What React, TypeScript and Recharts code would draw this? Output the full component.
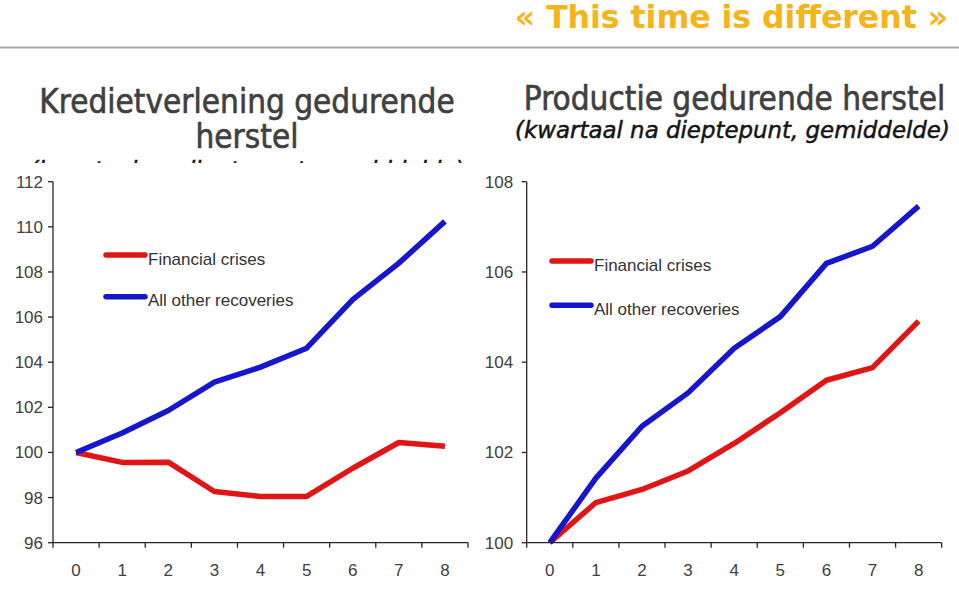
import React from "react";
import { LineChart, Line, XAxis, YAxis, Legend } from "recharts";

const quarters = [0, 1, 2, 3, 4, 5, 6, 7, 8];
const quarterBounds = [-0.5, 0.5, 1.5, 2.5, 3.5, 4.5, 5.5, 6.5, 7.5, 8.5];

const creditCrisis = [100, 99.56, 99.57, 98.27, 98.05, 98.05, 99.3, 100.44, 100.27];
const creditOther = [100, 100.86, 101.86, 103.12, 103.78, 104.62, 106.77, 108.39, 110.24];
const creditTicks = [96, 98, 100, 102, 104, 106, 108, 110, 112];

const outputCrisis = [100, 100.89, 101.18, 101.59, 102.2, 102.88, 103.6, 103.88, 104.91];
const outputOther = [100, 101.43, 102.58, 103.32, 104.31, 105.01, 106.19, 106.57, 107.46];
const outputTicks = [100, 102, 104, 106, 108];

const seriesNames = ["Financial crises", "All other recoveries"];
const seriesColors = ["#e01616", "#1616cc"];

const mainTitle = "« This time is different »";
const leftTitle = ["Kredietverlening gedurende", "herstel"];
const rightTitle = "Productie gedurende herstel";
const subTitle = "(kwartaal na dieptepunt, gemiddelde)";

const creditData = quarters.map((q, i) => ({ q, crisis: creditCrisis[i], other: creditOther[i] }));
const outputData = quarters.map((q, i) => ({ q, crisis: outputCrisis[i], other: outputOther[i] }));

const AXIS = "#262626";
const TICKFILL = "#404040";
const AX_FONT = "'Liberation Sans', Arial, sans-serif";
const COND_FONT = "'DejaVu Sans Condensed', 'DejaVu Sans', sans-serif";
const WIDE_FONT = "'DejaVu Sans', sans-serif";

function makeLegend(gap: number) {
  return (props: any) => {
    const payload = props.payload || [];
    return (
      <svg width={230} height={80} style={{ display: "block" }}>
        {payload.map((p: any, i: number) => {
          const y = 12 + i * gap;
          return (
            <g key={i}>
              <line x1={4} x2={43} y1={y} y2={y} stroke={p.color} strokeWidth={5.5} strokeLinecap="round" />
              <text
                x={46}
                y={y + 4}
                dominantBaseline="central"
                fontFamily={AX_FONT}
                fontSize={17}
                fill="#333"
              >
                {p.value}
              </text>
            </g>
          );
        })}
      </svg>
    );
  };
}

function Chart(props: {
  data: any[];
  yTicks: number[];
  width: number;
  height: number;
  margin: any;
  yTickMargin: number;
  legendLeft: number;
  legendTop: number;
  legendGap: number;
}) {
  const { data, yTicks } = props;
  return (
    <LineChart width={props.width} height={props.height} data={data} margin={props.margin}>
      <XAxis
        xAxisId="a_marks"
        dataKey="q"
        type="number"
        domain={[quarterBounds[0], quarterBounds[quarterBounds.length - 1]]}
        ticks={quarterBounds}
        tickFormatter={() => ""}
        height={6}
        tickSize={5}
        stroke={AXIS}
        strokeWidth={1.3}
        interval={0}
        allowDataOverflow
      />
      <XAxis
        xAxisId="b_labels"
        dataKey="q"
        type="number"
        domain={[quarterBounds[0], quarterBounds[quarterBounds.length - 1]]}
        ticks={quarters}
        height={40}
        axisLine={false}
        tickLine={false}
        tickSize={0}
        tickMargin={15}
        tick={{ fill: TICKFILL, fontSize: 17, fontFamily: AX_FONT }}
        interval={0}
        allowDataOverflow
      />
      <YAxis
        type="number"
        domain={[yTicks[0], yTicks[yTicks.length - 1]]}
        ticks={yTicks}
        width={45}
        tickSize={5}
        tickMargin={props.yTickMargin}
        stroke={AXIS}
        strokeWidth={1.3}
        axisLine={true}
        tickLine={true}
        tick={{ fill: TICKFILL, fontSize: 17, fontFamily: AX_FONT }}
        interval={0}
      />
      <Legend
        layout="vertical"
        align="center"
        verticalAlign="middle"
        itemSorter={(item: any) => seriesNames.indexOf(item.value)}
        content={makeLegend(props.legendGap)}
        wrapperStyle={{ left: props.legendLeft, top: props.legendTop, width: 230, height: 80 }}
      />
      <Line
        xAxisId="b_labels"
        type="linear"
        dataKey="crisis"
        name={seriesNames[0]}
        stroke={seriesColors[0]}
        strokeWidth={5.5}
        strokeLinejoin="round"
        dot={false}
        isAnimationActive={false}
      />
      <Line
        xAxisId="b_labels"
        type="linear"
        dataKey="other"
        name={seriesNames[1]}
        stroke={seriesColors[1]}
        strokeWidth={5.5}
        strokeLinejoin="round"
        dot={false}
        isAnimationActive={false}
      />
    </LineChart>
  );
}

export default function App() {
  return (
    <div
      style={{
        position: "absolute",
        left: 0,
        top: 0,
        width: 959,
        height: 589,
        background: "#ffffff",
        overflow: "hidden",
      }}
    >
      <svg width={959} height={589} style={{ position: "absolute", left: 0, top: 0 }}>
        <text x={948} y={28} textAnchor="end" fontFamily={WIDE_FONT} fontWeight="bold" fontSize={31.5} fill="#f4b41c">
          {mainTitle}
        </text>
        <line x1={0} x2={959} y1={47.5} y2={47.5} stroke="#a8a8a8" strokeWidth={2} />
        <g fontFamily={COND_FONT} fontSize={33} fill="#404040" stroke="#404040" strokeWidth={0.6}>
          <text x={247} y={113} textAnchor="middle">
            {leftTitle[0]}
          </text>
          <text x={247} y={148} textAnchor="middle">
            {leftTitle[1]}
          </text>
          <text x={734.5} y={110} textAnchor="middle">
            {rightTitle}
          </text>
        </g>
        <g fontFamily={WIDE_FONT} fontStyle="italic" fontSize={22.9} fill="#151515" stroke="#151515" strokeWidth={0.5}>
          <text x={247} y={178} textAnchor="middle">
            {subTitle}
          </text>
          <text x={732.5} y={138} textAnchor="middle">
            {subTitle}
          </text>
        </g>
      </svg>
      <div style={{ position: "absolute", left: 0, top: 163, width: 480, height: 426, background: "#fff" }}>
        <Chart
          data={creditData}
          yTicks={creditTicks}
          width={480}
          height={426}
          margin={{ top: 18.7, right: 12, bottom: 0.3, left: 8 }}
          yTickMargin={5}
          legendLeft={102}
          legendTop={80}
          legendGap={41.7}
        />
      </div>
      <div style={{ position: "absolute", left: 480, top: 163, width: 479, height: 426, background: "#fff" }}>
        <Chart
          data={outputData}
          yTicks={outputTicks}
          width={479}
          height={426}
          margin={{ top: 18.7, right: 17.3, bottom: 0.3, left: 1.7 }}
          yTickMargin={8.5}
          legendLeft={68}
          legendTop={86}
          legendGap={44.3}
        />
      </div>
    </div>
  );
}
